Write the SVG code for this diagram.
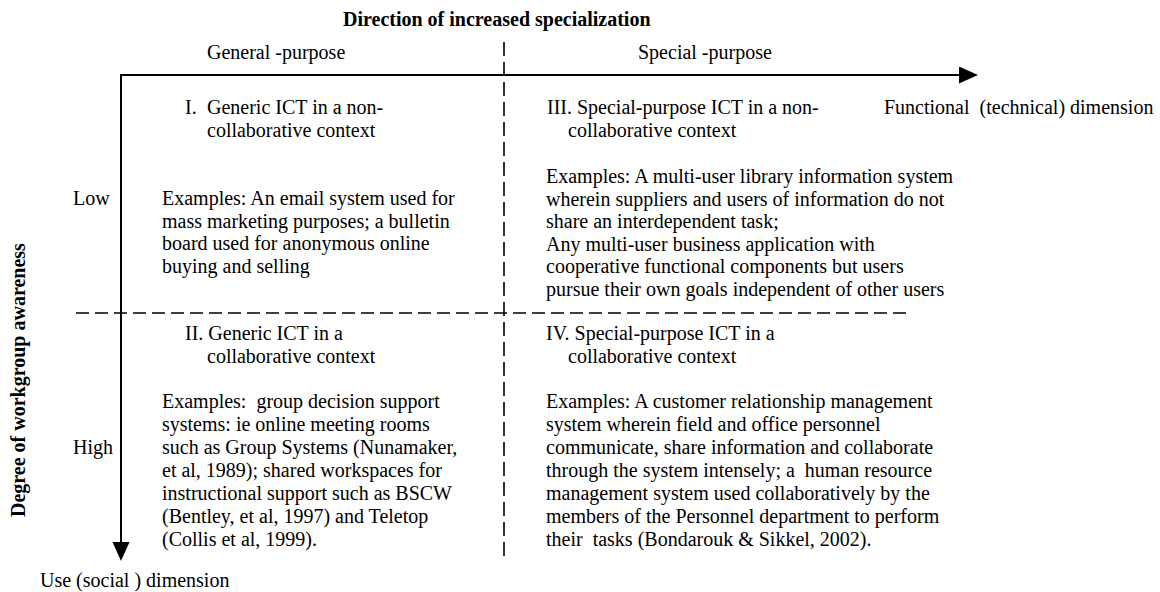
<svg xmlns="http://www.w3.org/2000/svg" width="1160" height="592" viewBox="0 0 1160 592">
  <style>
    text { font-family: "Liberation Serif", "Times New Roman", serif; font-size: 20px; fill: #000; white-space: pre; }
    .b { font-weight: bold; }
    .axis { stroke: #000; stroke-width: 2; fill: none; }
    .dash { stroke: #000; stroke-width: 1.6; fill: none; }
  </style>
  <defs>
    <marker id="arrow" markerUnits="userSpaceOnUse" markerWidth="20" markerHeight="18" refX="0" refY="8.5" orient="auto">
      <path d="M0,0 L19,8.5 L0,17 Z" fill="#000"/>
    </marker>
  </defs>

  <rect width="1160" height="592" fill="#fff"/>

  <g id="connectors">
    <line class="axis" x1="120" y1="75" x2="959" y2="75" marker-end="url(#arrow)"/>
    <line class="axis" x1="121" y1="74" x2="121" y2="542" marker-end="url(#arrow)"/>
    <line class="dash" x1="504" y1="42" x2="504" y2="562" stroke-dasharray="14 6"/>
    <line class="dash" x1="76" y1="313" x2="912" y2="313" stroke-dasharray="13 6"/>
  </g>

  <g id="labels">
    <text class="b" x="343" y="26">Direction of increased specialization</text>
    <text x="207" y="59">General -purpose</text>
    <text x="638" y="59">Special -purpose</text>
    <text x="884" y="114">Functional  (technical) dimension</text>
    <text x="40" y="587">Use (social ) dimension</text>
    <text class="b" transform="translate(25,517) rotate(-90)">Degree of workgroup awareness</text>
    <text x="73" y="205">Low</text>
    <text x="73" y="454">High</text>
  </g>

  <g id="quadrant-I">
    <text x="185" y="114">I.</text>
    <text x="207" y="114">Generic ICT in a non-</text>
    <text x="207" y="137">collaborative context</text>
    <text x="162" y="205">Examples: An email system used for</text>
    <text x="162" y="228">mass marketing purposes; a bulletin</text>
    <text x="162" y="250">board used for anonymous online</text>
    <text x="162" y="273">buying and selling</text>
  </g>

  <g id="quadrant-III">
    <text x="547" y="114">III. Special-purpose ICT in a non-</text>
    <text x="568" y="137">collaborative context</text>
    <text x="546" y="183">Examples: A multi-user library information system</text>
    <text x="546" y="206">wherein suppliers and users of information do not</text>
    <text x="546" y="228">share an interdependent task;</text>
    <text x="546" y="251">Any multi-user business application with</text>
    <text x="546" y="273">cooperative functional components but users</text>
    <text x="546" y="296">pursue their own goals independent of other users</text>
  </g>

  <g id="quadrant-II">
    <text x="185" y="340">II. Generic ICT in a</text>
    <text x="207" y="363">collaborative context</text>
    <text x="162" y="408">Examples:  group decision support</text>
    <text x="162" y="431">systems: ie online meeting rooms</text>
    <text x="162" y="454">such as Group Systems (Nunamaker,</text>
    <text x="162" y="477">et al, 1989); shared workspaces for</text>
    <text x="162" y="500">instructional support such as BSCW</text>
    <text x="162" y="523">(Bentley, et al, 1997) and Teletop</text>
    <text x="162" y="546">(Collis et al, 1999).</text>
  </g>

  <g id="quadrant-IV">
    <text x="546" y="340">IV. Special-purpose ICT in a</text>
    <text x="568" y="363">collaborative context</text>
    <text x="546" y="408">Examples: A customer relationship management</text>
    <text x="546" y="431">system wherein field and office personnel</text>
    <text x="546" y="454">communicate, share information and collaborate</text>
    <text x="546" y="477">through the system intensely; a  human resource</text>
    <text x="546" y="500">management system used collaboratively by the</text>
    <text x="546" y="523">members of the Personnel department to perform</text>
    <text x="546" y="546">their  tasks (Bondarouk &amp; Sikkel, 2002).</text>
  </g>
</svg>
